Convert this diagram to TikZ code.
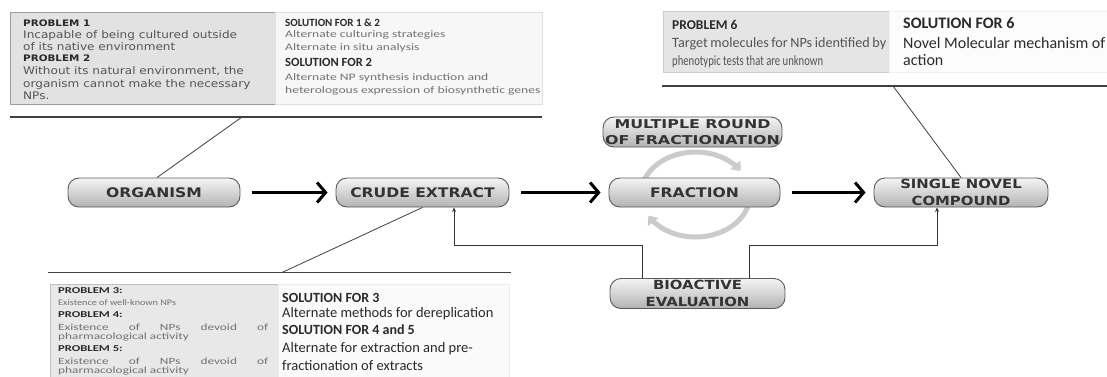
\documentclass[tikz,border=0pt]{standalone}
\usepackage{fontspec}
\usepackage{graphicx}
\setmainfont{Carlito}
\newfontfamily\probfont[FakeStretch=1.15]{DejaVu Sans}
\newfontfamily\lblfont[FakeStretch=1.18]{DejaVu Sans}
\newfontfamily\lblwidefont[FakeStretch=1.3]{DejaVu Sans}
\newfontfamily\solwfont[FakeStretch=1.36]{Carlito}
\newfontfamily\smallprob[FakeStretch=1.4]{Carlito}
\newfontfamily\smallprobn[FakeStretch=1.2]{Carlito}
\usetikzlibrary{arrows.meta,calc}

\definecolor{probfill}{HTML}{E2E2E2}
\definecolor{probedge}{HTML}{9C9C9C}
\definecolor{solfill}{HTML}{F7F7F7}
\definecolor{soledge}{HTML}{E0E0E0}
\definecolor{inkdark}{HTML}{2A2A2A}
\definecolor{inkmid}{HTML}{555555}
\definecolor{inklight}{HTML}{727272}
\definecolor{cyclegray}{HTML}{CBCBCB}

\begin{document}
\begin{tikzpicture}[x=1pt,y=-1pt,
  stage/.style={draw=black!65, line width=0.9pt, rounded corners=11pt,
    top color=black!4, bottom color=black!30, inner sep=0pt,
    minimum height=29pt, text=black!80, align=center,
    font=\lblfont\bfseries\fontsize{13.2}{17}\selectfont},
  flow/.style={draw=black, line width=3pt, shorten <=12pt, shorten >=8pt,
    -{Straight Barb[length=8.5pt,width=20pt]}},
  cyc/.style={draw=cyclegray, line width=5pt,
    -{Triangle[length=8pt,width=13pt]}},
  fb/.style={draw=black!80, line width=0.9pt,
    -{Stealth[length=4.5pt,width=4pt]}},
  rule/.style={draw=black!75, line width=1.1pt},
  link/.style={draw=black!75, line width=0.8pt},
  txt/.style={anchor=base west, inner sep=0pt},
  probbox/.style={fill=probfill, draw=probedge, line width=0.7pt},
  solbox/.style={fill=solfill, draw=soledge, line width=0.7pt}]

\useasboundingbox (0,0) rectangle (1107,376);
\clip (0,0) rectangle (1107,376);
\fill[white] (0,0) rectangle (1107,376);

% ---------- problem / solution panels ----------
\draw[probbox] (10,12) rectangle (275,104);
\draw[solbox] (275,12) rectangle (542,104);
\draw[probbox, fill=black!10, draw=black!20] (663,11) rectangle (889,72);
\draw[solbox, fill=black!1, draw=black!6] (889,11) rectangle (1110,72);
\draw[probbox, fill=black!9, draw=black!25] (50,284) rectangle (278,380);
\draw[solbox, fill=black!2, draw=black!7] (278,284) rectangle (509,380);

% rules under / above the panels
\coordinate (tlL) at (10,117);   \coordinate (tlR) at (542,117);  \coordinate (tlK) at (242,117);
\coordinate (trL) at (662,86);   \coordinate (trR) at (1107,86);  \coordinate (trK) at (893,86);
\coordinate (btL) at (48,272.5); \coordinate (btR) at (511,272.5); \coordinate (btK) at (282,272.5);
\draw[rule] (tlL) -- (tlR);
\draw[rule] (trL) -- (trR);
\draw[rule] (btL) -- (btR);

% ---------- fractionation cycle ----------
\draw[cyc] plot[domain=195:326, samples=40, smooth]
  ({695.5+54.5*cos(\x)},{194.5+42.5*sin(\x)});
\draw[cyc] plot[domain=14:150, samples=40, smooth]
  ({695.5+54.5*cos(\x)},{194.5+42.5*sin(\x)});

% ---------- stages ----------
\node[stage, minimum width=172pt] (org) at (154,192.5) {ORGANISM};
\node[stage, minimum width=173pt] (crude) at (422.5,192.5) {CRUDE EXTRACT};
\node[stage, minimum width=171pt] (frac) at (694.5,192.5) {FRACTION};
\node[stage, minimum width=174pt, font=\lblfont\bfseries\fontsize{12.6}{17}\selectfont]
  (single) at (961,192.5) {SINGLE NOVEL\\COMPOUND};
\node[stage, minimum width=179pt, minimum height=30pt,
  font=\lblwidefont\bfseries\fontsize{12.2}{16}\selectfont] (multi) at (692.5,132)
  {MULTIPLE ROUND\\OF FRACTIONATION};
\node[stage, minimum width=175pt, minimum height=30pt,
  font=\lblfont\bfseries\fontsize{12.6}{17}\selectfont] (bio) at (697.5,293.5)
  {BIOACTIVE\\EVALUATION};

% ---------- connectors ----------
\draw[flow] (org.east) -- (crude.west);
\draw[flow] (crude.east) -- (frac.west);
\draw[flow] (frac.east) -- (single.west);

\coordinate (jl) at (642,245);
\coordinate (jr) at (749,245);
\draw[fb] (jl |- bio.north) -- (jl) -| ([xshift=31.5pt]crude.south);
\draw[fb] (jr |- bio.north) -- (jr) -| ([xshift=-24pt]single.south);

\draw[link] (tlK) -- ([xshift=3pt]org.north);
\draw[link] (btK) -- (crude.south);
\draw[link] (trK) -- (single.north);

% ---------- text: problems 1 and 2 ----------
\begin{scope}[every node/.style={txt, text=inkmid,
    font=\probfont\fontsize{10.5}{12}\selectfont}]
  \node[text=inkdark, font=\probfont\bfseries\fontsize{9}{10}\selectfont] (p1h) at (23,26) {PROBLEM 1};
  \node (p1a) at (23,38.3) {Incapable of being cultured outside};
  \node (p1b) at (23,50) {of its native environment};
  \node[text=inkdark, font=\probfont\bfseries\fontsize{9}{10}\selectfont] (p2h) at (23,61.5) {PROBLEM 2};
  \node (p2a) at (23,74.5) {Without its natural environment, the};
  \node (p2b) at (23,87) {organism cannot make the necessary};
  \node (p2c) at (23,99) {NPs.};
\end{scope}

% ---------- text: solutions for 1 and 2 ----------
\begin{scope}[every node/.style={txt, text=inklight,
    font=\solwfont\fontsize{10}{12}\selectfont}]
  \node[text=inkdark, font=\bfseries\fontsize{11}{12}\selectfont] (s12h) at (285,26.5) {SOLUTION FOR 1 \& 2};
  \node (s12a) at (285,37.5) {Alternate culturing strategies};
  \node (s12b) at (285,50) {Alternate in situ analysis};
  \node[text=inkdark, font=\bfseries\fontsize{12.5}{14}\selectfont] (s2h) at (285,66) {SOLUTION FOR 2};
  \node (s2a) at (285,80) {Alternate NP synthesis induction and};
  \node (s2b) at (285,93.5) {heterologous expression of biosynthetic genes};
\end{scope}

% ---------- text: problem 6 and its solution ----------
\begin{scope}[every node/.style={txt, text=inkmid, font=\fontsize{14.2}{16}\selectfont}]
  \node[text=inkdark, font=\bfseries\fontsize{13.5}{15}\selectfont] (p6h) at (672,29) {PROBLEM 6};
  \node (p6a) at (672,47.5) {\makebox[214pt][s]{Target molecules for NPs identified by}};
  \node (p6b) at (672,65) {\scalebox{0.75}[1]{phenotypic tests that are unknown}};
\end{scope}
\begin{scope}[every node/.style={txt, text=inkdark, font=\fontsize{16}{18}\selectfont}]
  \node[font=\bfseries\fontsize{16}{18}\selectfont] (s6h) at (903,28.5) {SOLUTION FOR 6};
  \node (s6a) at (903,48) {Novel Molecular mechanism of};
  \node (s6b) at (903,65) {action};
\end{scope}

% ---------- text: problems 3 to 5 ----------
\begin{scope}[every node/.style={txt, text=inklight,
    font=\smallprob\fontsize{9.5}{11}\selectfont}]
  \node[text=inkdark, font=\smallprob\bfseries\fontsize{9}{10}\selectfont] (p3h) at (58,293) {PROBLEM 3:};
  \node[font=\smallprobn\fontsize{8.5}{9}\selectfont] (p3a) at (58,305.5) {Existence of well-known NPs};
  \node[text=inkdark, font=\smallprob\bfseries\fontsize{9}{10}\selectfont] (p4h) at (58,317) {PROBLEM 4:};
  \node (p4a) at (58,330) {\makebox[210pt][s]{Existence of NPs devoid of}};
  \node (p4b) at (58,339.5) {pharmacological activity};
  \node[text=inkdark, font=\smallprob\bfseries\fontsize{9}{10}\selectfont] (p5h) at (58,351.5) {PROBLEM 5:};
  \node (p5a) at (58,364) {\makebox[210pt][s]{Existence of NPs devoid of}};
  \node (p5b) at (58,373.5) {pharmacological activity};
\end{scope}

% ---------- text: solutions for 3 to 5 ----------
\begin{scope}[every node/.style={txt, text=inkdark, font=\fontsize{14.5}{16}\selectfont}]
  \node[font=\bfseries\fontsize{14}{16}\selectfont] (s3h) at (282,302) {SOLUTION FOR 3};
  \node (s3a) at (282,317.5) {Alternate methods for dereplication};
  \node[font=\bfseries\fontsize{14}{16}\selectfont] (s45h) at (282,334) {SOLUTION FOR 4 and 5};
  \node (s45a) at (282,352) {Alternate for extraction and pre-};
  \node (s45b) at (282,370) {fractionation of extracts};
\end{scope}

\end{tikzpicture}
\end{document}
